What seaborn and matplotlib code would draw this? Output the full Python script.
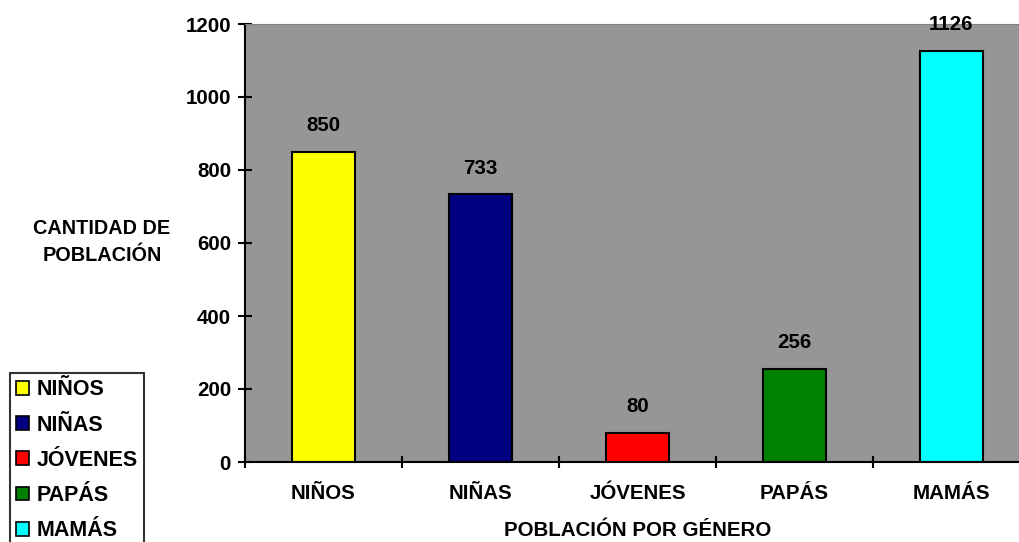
import matplotlib
matplotlib.use("Agg")
import matplotlib.pyplot as plt
import seaborn as sns
from matplotlib.patches import Patch

categorias = ["NIÑOS", "NIÑAS", "JÓVENES", "PAPÁS", "MAMÁS"]
valores = [850, 733, 80, 256, 1126]
colores = ["#FFFF00", "#000080", "#FF0000", "#008000", "#00FFFF"]

sns.set_style("white")
plt.rcParams["font.family"] = ["Liberation Sans", "DejaVu Sans"]
plt.rcParams["font.weight"] = "bold"
plt.rcParams["text.color"] = "black"
plt.rcParams["xtick.color"] = "black"
plt.rcParams["ytick.color"] = "black"
plt.rcParams["axes.labelcolor"] = "black"

fs = 14.8

fig = plt.figure(figsize=(10.19, 5.42), dpi=100)
ax = fig.add_axes([245 / 1019, 80 / 542, 785 / 1019, 438 / 542])
ax.set_facecolor("#969696")

sns.barplot(x=categorias, y=valores, hue=categorias, palette=colores,
            width=0.4, edgecolor="black", linewidth=1.5, legend=False,
            saturation=1, ax=ax)

for i, v in enumerate(valores):
    ax.annotate(str(v), (i, v), xytext=(0, 12), textcoords="offset points",
                ha="center", va="bottom", fontsize=fs, fontweight="bold",
                color="black")

ax.set_ylim(0, 1200)
ax.set_xlim(-0.5, 4.5)
ax.set_yticks(range(0, 1201, 200))
ax.set_xticks(range(len(categorias)))
ax.set_xticklabels(categorias, fontsize=fs, fontweight="bold")
ax.set_xticks([i - 0.5 for i in range(len(categorias) + 1)], minor=True)
ax.tick_params(axis="x", which="major", length=0, pad=16)
ax.tick_params(axis="x", which="minor", direction="inout", length=9,
               width=1.5, bottom=True)
ax.tick_params(axis="y", direction="inout", length=10, width=1.5,
               labelsize=fs, left=True, pad=5)
for lab in ax.get_yticklabels():
    lab.set_fontweight("bold")

for s in ["left", "bottom"]:
    ax.spines[s].set_color("black")
    ax.spines[s].set_linewidth(1.5)
ax.spines["top"].set_color("#808080")
ax.spines["right"].set_visible(False)

ax.set_xlabel("POBLACIÓN POR GÉNERO", fontsize=fs, fontweight="bold",
              labelpad=13)
fig.text(102 / 1019, 1 - 242 / 542, "CANTIDAD DE\nPOBLACIÓN", ha="center",
         va="center", fontsize=fs - 0.5, fontweight="bold", linespacing=1.5)
ax.set_ylabel("")

handles = [Patch(facecolor=c, edgecolor="black", linewidth=1.2, label=l)
           for c, l in zip(colores, categorias)]
leg = fig.legend(handles=handles, loc="upper left",
                 bbox_to_anchor=(10 / 1019, 1 - 373 / 542),
                 frameon=True, fancybox=False, edgecolor="black",
                 prop={"size": fs + 0.7, "weight": "bold"}, handlelength=0.6,
                 handleheight=0.6, handletextpad=0.35, labelspacing=0.66,
                 borderpad=0.3, borderaxespad=0)
leg.get_frame().set_linewidth(1.5)

fig.savefig("out.png", dpi=100)
